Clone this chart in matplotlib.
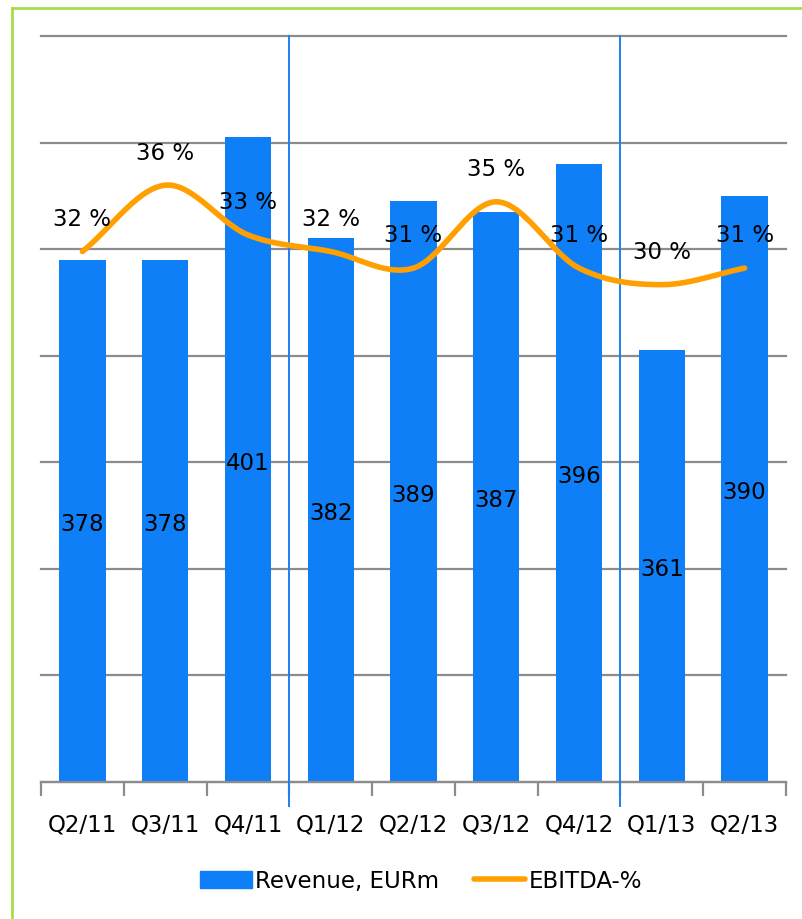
import matplotlib
matplotlib.use("Agg")
import matplotlib.pyplot as plt
from matplotlib.lines import Line2D
from matplotlib.patches import Patch
import numpy as np

# ── data ───────────────────────────────────────────────────────────────────
quarters = ["Q2/11", "Q3/11", "Q4/11", "Q1/12", "Q2/12", "Q3/12", "Q4/12", "Q1/13", "Q2/13"]
revenue  = [378, 378, 401, 382, 389, 387, 396, 361, 390]
ebitda   = [32, 36, 33, 32, 31, 35, 31, 30, 31]

BAR_BLUE = "#0f7ff8"
ORANGE   = "#ffa000"
GRID     = "#8c8c8c"
BORDER   = "#a8dc4c"

plt.rcParams["font.family"] = "DejaVu Sans"


def catmull_rom(xs, ys, n=30):
    """Smooth curve through the points, like Excel's 'smoothed line'."""
    xs = np.asarray(xs, float)
    ys = np.asarray(ys, float)
    px = np.concatenate([[2 * xs[0] - xs[1]], xs, [2 * xs[-1] - xs[-2]]])
    py = np.concatenate([[2 * ys[0] - ys[1]], ys, [2 * ys[-1] - ys[-2]]])
    out_x, out_y = [], []
    t = np.linspace(0, 1, n)
    for i in range(1, len(px) - 2):
        for p, out in ((px, out_x), (py, out_y)):
            p0, p1, p2, p3 = p[i - 1], p[i], p[i + 1], p[i + 2]
            seg = 0.5 * ((2 * p1) + (-p0 + p2) * t
                         + (2 * p0 - 5 * p1 + 4 * p2 - p3) * t ** 2
                         + (-p0 + 3 * p1 - 3 * p2 + p3) * t ** 3)
            out.extend(seg)
    return np.array(out_x), np.array(out_y)


fig = plt.figure(figsize=(8.02, 9.2), dpi=100)
ax = fig.add_axes([41 / 802, 1 - 783 / 920, (786 - 41) / 802, (783 - 37) / 920])
ax2 = ax.twinx()

x = np.arange(len(quarters))

# gridlines
ax.set_ylim(280, 420)
ax.set_yticks(np.arange(280, 421, 20))
ax.yaxis.grid(True, color=GRID, linewidth=1.6)
ax.set_axisbelow(True)
ax.tick_params(axis="y", left=False, right=False, labelleft=False, labelright=False)
for gl in ax.get_ygridlines():
    gl.set_clip_on(False)

bars = ax.bar(x, revenue, width=0.56, color=BAR_BLUE, zorder=2)
for xi, v in zip(x, revenue):
    ax.text(xi, (280 + v) / 2 - 0.5, str(v), ha="center", va="center",
            fontsize=16.5, color="black", zorder=5)

ax.set_xlim(-0.5, len(quarters) - 0.5)
ax.set_xticks(x)
ax.set_xticklabels(quarters, fontsize=16.5)
ax.set_xticks(np.arange(-0.5, len(quarters)), minor=True)
ax.tick_params(axis="x", which="major", length=0, pad=22)
ax.tick_params(axis="x", which="minor", length=10, width=1.6, color=GRID)

for s in ["left", "right", "top"]:
    ax.spines[s].set_visible(False)
ax.spines["bottom"].set_color(GRID)
ax.spines["bottom"].set_linewidth(1.6)

# year separators
for sep in [2.5, 6.5]:
    ax.plot([sep, sep], [-0.032, 1.0], transform=ax.get_xaxis_transform(),
            color="#1f80f0", linewidth=1.4, clip_on=False, zorder=3)

# EBITDA on hidden secondary axis
ax2.set_ylim(0, 45)
ax2.axis("off")
sx, sy = catmull_rom(x, ebitda)
ax2.plot(sx, sy, color=ORANGE, linewidth=4, solid_capstyle="round", zorder=4)
for xi, v in zip(x, ebitda):
    ax2.text(xi, v + 2.0, f"{v} %", ha="center", va="center",
             fontsize=16.5, color="black", zorder=6)

# legend
handles = [Patch(color=BAR_BLUE, label="Revenue, EURm"),
           Line2D([0], [0], color=ORANGE, linewidth=4, solid_capstyle="round", label="EBITDA-%")]
fig.legend(handles=handles, loc="center", bbox_to_anchor=(0.525, 1 - 882 / 920),
           ncol=2, frameon=False, fontsize=16.5, handlelength=2.25,
           handletextpad=0.15, columnspacing=1.5)

# green frame (top and left only)
fig.add_artist(Line2D([12 / 802, 1], [1 - 9 / 920, 1 - 9 / 920],
                      transform=fig.transFigure, color=BORDER, linewidth=2))
fig.add_artist(Line2D([12 / 802, 12 / 802], [0, 1 - 9 / 920],
                      transform=fig.transFigure, color=BORDER, linewidth=2))

fig.savefig("out.png", dpi=100)
